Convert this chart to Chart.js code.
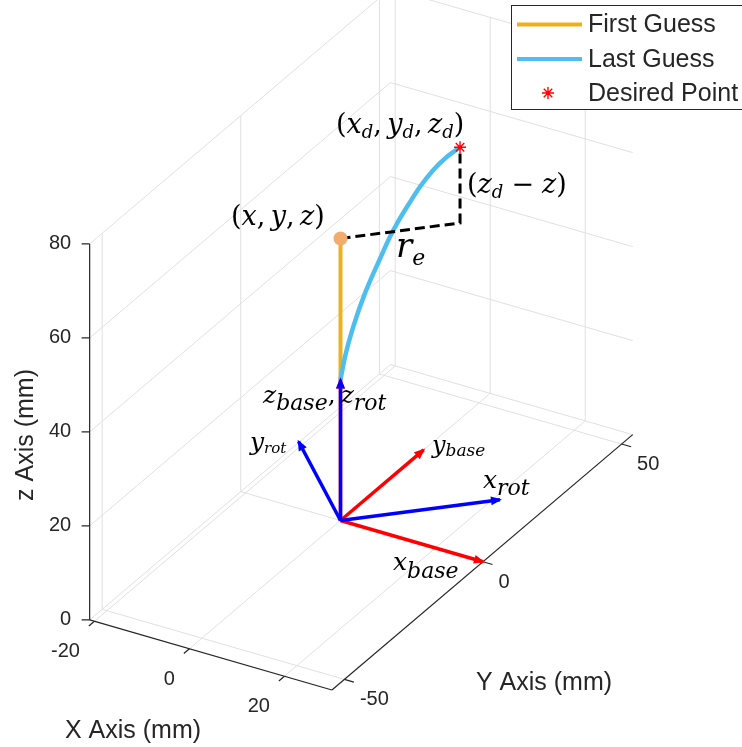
<!DOCTYPE html>
<html>
<head>
<meta charset="utf-8">
<title>First guess vs last guess</title>
<script src="https://cdn.jsdelivr.net/npm/chart.js@4.4.0/dist/chart.umd.min.js"></script>
<style>
    html, body { margin: 0; padding: 0; background: #fff; }
    #plot { display: block; }
</style>
</head>
<body>
<canvas id="plot" width="742" height="747"></canvas>
<script>
// Axis limits and ticks (mm)
const xLimits = [-21, 30];
const yLimits = [-54.5, 54];
const zLimits = [0, 80];
const xTicks = [-20, 0, 20];
const yTicks = [-50, 0, 50];
const zTicks = [0, 20, 40, 60, 80];

// First guess: straight segment on top of the base
const firstGuessX = [0, 0];
const firstGuessY = [0, 0];
const firstGuessZ = [30, 60];

// Last guess: bent segment that ends on the desired point
const lastGuessX = [0, 0.6, 1.7, 3.26, 5.25, 6.58, 7.69, 9.02, 10.57, 12.34, 14.12, 15.89];
const lastGuessY = [0, 0.6, 1.7, 3.26, 5.25, 6.58, 7.69, 9.02, 10.57, 12.34, 14.12, 15.89];
const lastGuessZ = [30, 34.7, 40.9, 47.7, 54.6, 59.0, 62.1, 65.3, 68.8, 72.0, 74.4, 76.1];

// Tip of the first guess and the desired point
const guessPoint = [0, 0, 60];
const desiredPoint = [15.89, 15.89, 76.1];

// Coordinate frames (arrow tips, arrows start at the origin)
const frameOrigin = [0, 0, 0];
const baseFrameTips = [[30, 0, 0], [0, 30, 0], [0, 0, 30]];
const rotFrameTips = [[21.2, 21.2, 0], [-21.2, 21.2, 0], [0, 0, 30]];

// Colours
const firstColor = 'rgb(237, 177, 32)';
const lastColor = 'rgb(77, 190, 238)';
const baseColor = 'rgb(255, 0, 0)';
const rotColor = 'rgb(0, 0, 255)';
const gridColor = '#e0e0e0';
const axisColor = '#262626';

// Camera (orthographic view like matlab's view(az, el))
const viewAz = 30.27 * Math.PI / 180;
const viewEl = 29.7 * Math.PI / 180;
const pxPerMm = 5.5;
const zPxPerMm = 4.7;
const originPx = [340.5, 520.5];
const W = 742, H = 747;

function project(p) {
    const u = p[0] * Math.cos(viewAz) + p[1] * Math.sin(viewAz);
    const v = (p[1] * Math.cos(viewAz) - p[0] * Math.sin(viewAz)) * Math.sin(viewEl) + p[2] * zPxPerMm / pxPerMm;
    return { x: u, y: v };
}

function zip3(xs, ys, zs) {
    return xs.map((x, i) => [x, ys[i], zs[i]]);
}

function seg(points, color, width, order, extra) {
    return Object.assign({
        data: points.map(project),
        showLine: true,
        borderColor: color,
        backgroundColor: color,
        borderWidth: width,
        pointRadius: 0,
        pointHoverRadius: 0,
        order: order,
        clip: false
    }, extra || {});
}

function buildDatasets() {
    const datasets = [];

    // grid on the floor and the two back walls
    const grid = [];
    xTicks.forEach(x => grid.push([[x, yLimits[0], 0], [x, yLimits[1], 0]]));
    yTicks.forEach(y => grid.push([[xLimits[0], y, 0], [xLimits[1], y, 0]]));
    yTicks.forEach(y => grid.push([[xLimits[0], y, zLimits[0]], [xLimits[0], y, zLimits[1]]]));
    zTicks.forEach(z => grid.push([[xLimits[0], yLimits[0], z], [xLimits[0], yLimits[1], z]]));
    xTicks.forEach(x => grid.push([[x, yLimits[1], zLimits[0]], [x, yLimits[1], zLimits[1]]]));
    zTicks.forEach(z => grid.push([[xLimits[0], yLimits[1], z], [xLimits[1], yLimits[1], z]]));
    grid.forEach(g => datasets.push(seg(g, gridColor, 1, 20)));

    // axis lines and tick marks
    const axes = [
        [[xLimits[0], yLimits[0], 0], [xLimits[1], yLimits[0], 0]],
        [[xLimits[1], yLimits[0], 0], [xLimits[1], yLimits[1], 0]],
        [[xLimits[0], yLimits[0], zLimits[0]], [xLimits[0], yLimits[0], zLimits[1]]]
    ];
    xTicks.forEach(x => axes.push([[x, yLimits[0], 0], [x, yLimits[0] - 2, 0]]));
    yTicks.forEach(y => axes.push([[xLimits[1], y, 0], [xLimits[1] + 2, y, 0]]));
    zTicks.forEach(z => axes.push([[xLimits[0], yLimits[0], z], [xLimits[0] - 1.26, yLimits[0] - 0.73, z]]));
    axes.forEach(a => datasets.push(seg(a, axisColor, 1.2, 19)));

    // frames
    baseFrameTips.forEach(t => datasets.push(seg([frameOrigin, t], baseColor, 3.5, 6, { arrow: true })));
    rotFrameTips.forEach(t => datasets.push(seg([frameOrigin, t], rotColor, 3.5, 5, { arrow: true })));

    // guesses
    datasets.push(seg(zip3(firstGuessX, firstGuessY, firstGuessZ), firstColor, 4, 3));
    datasets.push(seg(zip3(lastGuessX, lastGuessY, lastGuessZ), lastColor, 4.5, 2, { cubicInterpolationMode: 'monotone' }));

    // error construction lines
    const corner = [desiredPoint[0], desiredPoint[1], guessPoint[2]];
    datasets.push(seg([guessPoint, corner, desiredPoint], '#000', 3, 1, { borderDash: [10, 5] }));

    datasets.push({
        data: [project(guessPoint)],
        pointStyle: 'circle', pointRadius: 7, pointHoverRadius: 7,
        backgroundColor: 'rgb(242, 173, 108)', borderColor: 'rgb(242, 173, 108)', borderWidth: 0,
        order: 0, clip: false
    });
    datasets.push({
        data: [project(desiredPoint)],
        pointStyle: 'star', pointRadius: 6, pointHoverRadius: 6,
        borderColor: baseColor, backgroundColor: baseColor, borderWidth: 1.4,
        order: 0, clip: false
    });
    return datasets;
}

// LaTeX-like labels: letters italic, "_x" or "_{abc}" is a subscript
function drawMath(ctx, l) {
    const tex = l.tex;
    let cx = l.x;
    let i = 0;
    while (i < tex.length) {
        let ch = tex[i];
        let sub = false;
        if (ch === '_') {
            sub = true;
            i++;
            if (tex[i] === '{') {
                const j = tex.indexOf('}', i);
                ch = tex.slice(i + 1, j);
                i = j;
            } else {
                ch = tex[i];
            }
        }
        if (ch === ' ') {
            cx += l.size * (l.gap || 0.2);
            i++;
            continue;
        }
        const fs = sub ? l.sub : l.size;
        const italic = /[a-z]/i.test(ch);
        ctx.font = (italic ? 'italic ' : '') + fs + 'px "DejaVu Serif", serif';
        ctx.fillText(ch, cx, sub ? l.y + l.shift : l.y);
        cx += ctx.measureText(ch).width;
        i++;
    }
}

const mathLabels = [
    { tex: '(x_d, y_d, z_d)', x: 336, y: 133, size: 27, sub: 18, shift: 5 },
    { tex: '(x, y, z)', x: 231, y: 225, size: 27, sub: 18, shift: 5 },
    { tex: '(z_d − z)', x: 467, y: 193, size: 27, sub: 18, shift: 5, gap: 0.3 },
    { tex: 'r_e', x: 396, y: 257, size: 34, sub: 22, shift: 8 },
    { tex: 'z_{base}, z_{rot}', x: 263, y: 403, size: 25, sub: 22, shift: 7 },
    { tex: 'y_{rot}', x: 250, y: 450, size: 25, sub: 15, shift: 3 },
    { tex: 'y_{base}', x: 432, y: 453, size: 24, sub: 17, shift: 3 },
    { tex: 'x_{rot}', x: 483, y: 488, size: 25, sub: 22, shift: 7 },
    { tex: 'x_{base}', x: 393, y: 570, size: 25, sub: 22, shift: 8 }
];

const arrowHeads = {
    id: 'arrowHeads',
    afterDatasetsDraw(chart) {
        const ctx = chart.ctx;
        chart.data.datasets.forEach((ds, i) => {
            if (!ds.arrow) return;
            const pts = chart.getDatasetMeta(i).data;
            const a = pts[pts.length - 2], b = pts[pts.length - 1];
            const ang = Math.atan2(b.y - a.y, b.x - a.x);
            ctx.save();
            ctx.translate(b.x, b.y);
            ctx.rotate(ang);
            ctx.beginPath();
            ctx.moveTo(2, 0);
            ctx.lineTo(-9, -4.5);
            ctx.lineTo(-9, 4.5);
            ctx.closePath();
            ctx.fillStyle = ds.borderColor;
            ctx.fill();
            ctx.restore();
        });
    }
};

const textLayer = {
    id: 'textLayer',
    afterDraw(chart) {
        const ctx = chart.ctx;
        const sx = chart.scales.x, sy = chart.scales.y;
        const toPx = p => {
            const q = project(p);
            return [sx.getPixelForValue(q.x), sy.getPixelForValue(q.y)];
        };
        ctx.save();
        ctx.fillStyle = axisColor;

        // tick labels
        ctx.font = '20px "Liberation Sans", Arial, sans-serif';
        ctx.textBaseline = 'middle';
        ctx.textAlign = 'right';
        zTicks.forEach(z => {
            const [px, py] = toPx([xLimits[0], yLimits[0], z]);
            ctx.fillText(String(z), px - 18.5, py);
        });
        xTicks.forEach(x => {
            const [px, py] = toPx([x, yLimits[0], 0]);
            ctx.fillText(String(x), px - 14.5, py + 30.5);
        });
        ctx.textAlign = 'left';
        yTicks.forEach(y => {
            const [px, py] = toPx([xLimits[1], y, 0]);
            ctx.fillText(String(y), px + 15.5, py + 20.5);
        });

        // axis titles
        ctx.font = '25px "Liberation Sans", Arial, sans-serif';
        ctx.textAlign = 'center';
        ctx.textBaseline = 'alphabetic';
        ctx.fillText('X Axis (mm)', 133, 738);
        ctx.fillText('Y Axis (mm)', 544, 690);
        ctx.save();
        ctx.translate(26, 435);
        ctx.rotate(-Math.PI / 2);
        ctx.textBaseline = 'middle';
        ctx.fillText('z Axis (mm)', 0, 0);
        ctx.restore();

        // math annotations
        ctx.fillStyle = '#000';
        ctx.textAlign = 'left';
        ctx.textBaseline = 'alphabetic';
        mathLabels.forEach(l => drawMath(ctx, l));

        // legend
        ctx.fillStyle = '#fff';
        ctx.fillRect(511.5, 5.5, 240, 104);
        ctx.strokeStyle = axisColor;
        ctx.lineWidth = 1;
        ctx.strokeRect(511.5, 5.5, 240, 104);
        const rows = [24.5, 59, 93];
        ctx.lineWidth = 4;
        ctx.strokeStyle = firstColor;
        ctx.beginPath(); ctx.moveTo(517, rows[0]); ctx.lineTo(582, rows[0]); ctx.stroke();
        ctx.strokeStyle = lastColor;
        ctx.beginPath(); ctx.moveTo(517, rows[1]); ctx.lineTo(582, rows[1]); ctx.stroke();
        ctx.restore();
        ctx.save();
        ctx.strokeStyle = baseColor;
        ctx.lineWidth = 1.4;
        Chart.helpers.drawPoint(ctx, { pointStyle: 'star', radius: 6, rotation: 0, borderWidth: 1.4 }, 548, rows[2]);
        ctx.fillStyle = axisColor;
        ctx.font = '25px "Liberation Sans", Arial, sans-serif';
        ctx.textAlign = 'left';
        ctx.textBaseline = 'middle';
        ctx.fillText('First Guess', 588, rows[0] + 1);
        ctx.fillText('Last Guess', 588, rows[1] + 1);
        ctx.fillText('Desired Point', 588, rows[2] + 1);
        ctx.restore();
    }
};

function initChart() {
    const ctx = document.getElementById('plot').getContext('2d');
    new Chart(ctx, {
        type: 'scatter',
        data: { datasets: buildDatasets() },
        options: {
            responsive: false,
            animation: false,
            devicePixelRatio: 1,
            layout: { padding: 0, autoPadding: false },
            plugins: {
                legend: { display: false },
                tooltip: { enabled: false }
            },
            scales: {
                x: {
                    type: 'linear', display: false,
                    min: -originPx[0] / pxPerMm,
                    max: (W - originPx[0]) / pxPerMm
                },
                y: {
                    type: 'linear', display: false,
                    min: -(H - originPx[1]) / pxPerMm,
                    max: originPx[1] / pxPerMm
                }
            }
        },
        plugins: [arrowHeads, textLayer]
    });
}

document.addEventListener('DOMContentLoaded', initChart);
</script>
</body>
</html>
